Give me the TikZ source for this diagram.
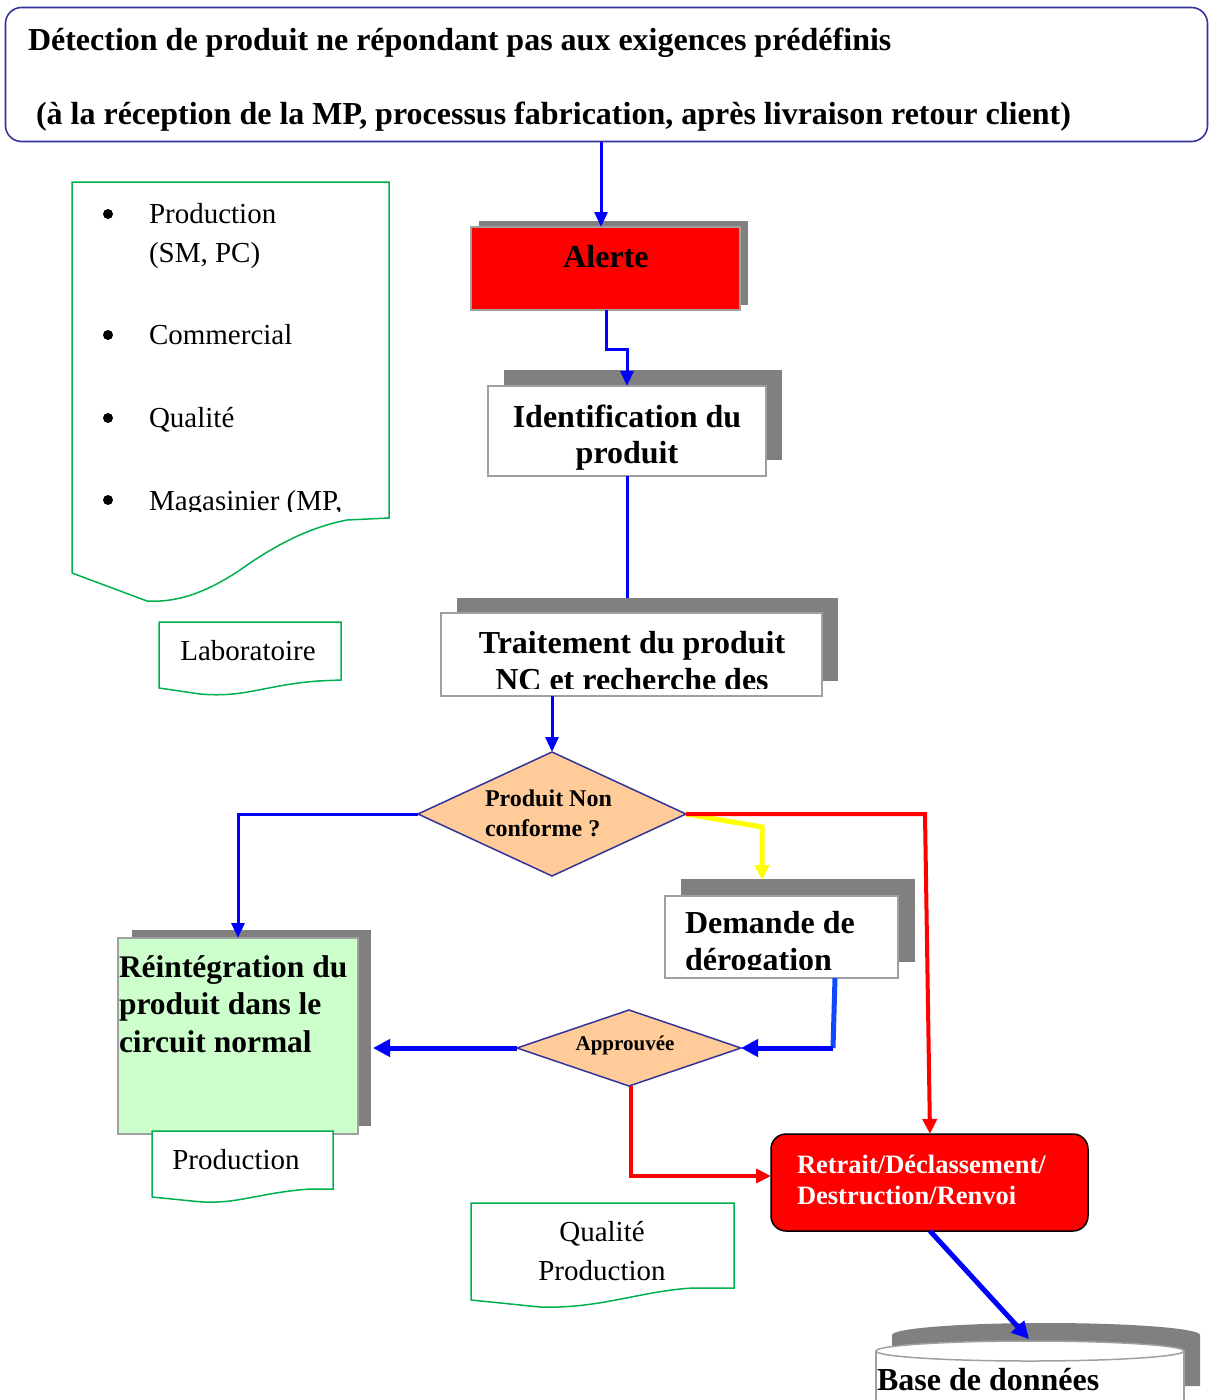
\documentclass[tikz,border=0pt]{standalone}
\usepackage{fontspec}
\setmainfont{Liberation Serif}
\usetikzlibrary{arrows.meta,shapes.geometric,calc}

\definecolor{navy}{RGB}{51,51,153}
\definecolor{docgreen}{RGB}{0,176,80}
\definecolor{shadowgray}{RGB}{128,128,128}
\definecolor{edge}{RGB}{160,160,160}
\definecolor{peach}{RGB}{255,204,153}
\definecolor{mint}{RGB}{204,255,204}
\definecolor{flowblue}{RGB}{0,0,255}
\definecolor{paleblue}{RGB}{16,72,255}
\definecolor{flowred}{RGB}{255,0,0}
\definecolor{flowyellow}{RGB}{255,255,0}

\newcommand\fBig{\fontsize{32}{37}\selectfont\bfseries}
\newcommand\fReint{\fontsize{31.5}{36}\selectfont\bfseries}
\newcommand\fRet{\fontsize{26.5}{31}\selectfont\bfseries}
\newcommand\fDec{\fontsize{24}{29}\selectfont\bfseries}
\newcommand\fAppr{\fontsize{21}{25}\selectfont\bfseries}
\newcommand\fReg{\fontsize{29}{35}\selectfont}

\tikzset{
  every node/.style={inner sep=0pt, outer sep=0pt},
  box/.style={rectangle, draw=edge, line width=1.5pt, fill=white},
  dropshadow/.style={fill=shadowgray},
  decision/.style={diamond, draw=navy, line width=1.5pt, fill=peach},
  docshape/.style={draw=docgreen, line width=1.5pt, fill=white},
  flow/.style={draw=flowblue, line width=3pt, -{Triangle[length=15pt,width=13pt]}},
  flowthick/.style={draw=flowblue, line width=5pt, -{Triangle[length=17pt,width=17pt]}},
  flowplain/.style={draw=flowblue, line width=3pt},
  redflow/.style={draw=flowred, line width=4pt, -{Triangle[length=15pt,width=14pt]}},
  yellowflow/.style={draw=flowyellow, line width=5pt, -{Triangle[length=15pt,width=14pt]}},
}

\begin{document}
\begin{tikzpicture}[x=1pt,y=-1pt]
\useasboundingbox (0,0) rectangle (1213,1400);

% ---------- header ----------
\node[rectangle, rounded corners=16pt, draw=navy, line width=1.6pt,
      minimum width=1202pt, minimum height=134pt] (head) at (606.5,74.5) {};
\node[anchor=base west] (headA) at (28,50)
  {\fBig Détection de produit ne répondant pas aux exigences prédéfinis};
\node[anchor=base west] (headB) at (36,124)
  {\fBig (à la réception de la MP, processus fabrication, après livraison retour client)};

% ---------- Alerte ----------
\path[dropshadow] (479,221) rectangle (748,305);
\node[box, fill=flowred, minimum width=269pt, minimum height=83pt] (alerte) at (605.5,268.5) {};
\node[anchor=base] (alerteT) at (606,267) {\fBig Alerte};

% ---------- Identification ----------
\path[dropshadow] (504,370) rectangle (782,460);
\node[box, minimum width=278pt, minimum height=90pt] (ident) at (627,431) {};
\node[anchor=base] (identA) at (627,427) {\fBig Identification du};
\node[anchor=base] (identB) at (627,463) {\fBig produit};

% ---------- Traitement ----------
\path[dropshadow] (457,598) rectangle (838,681);
\node[box, minimum width=381pt, minimum height=83pt] (trait) at (631.5,654.5) {};
\begin{scope}
  \clip (441,613) rectangle (822,688);
  \node[anchor=base] (traitA) at (632,653) {\fBig Traitement du produit};
  \node[anchor=base] (traitB) at (632,690) {\fBig NC et recherche des};
\end{scope}

% ---------- decision: non conforme ----------
\node[decision, minimum width=268pt, minimum height=124pt] (nc) at (552,814) {};
\node[anchor=base west] (ncA) at (485,806) {\fDec Produit Non};
\node[anchor=base west] (ncB) at (485,836) {\fDec conforme ?};

% ---------- Demande de dérogation ----------
\path[dropshadow] (681,879) rectangle (915,962);
\node[box, minimum width=233pt, minimum height=82pt] (derog) at (781.5,937) {};
\begin{scope}
  \clip (665,896) rectangle (898,969);
  \node[anchor=base west] (derogA) at (685,933) {\fBig Demande de};
  \node[anchor=base west] (derogB) at (685,970) {\fBig dérogation};
\end{scope}

% ---------- Réintégration ----------
\path[dropshadow] (132,930) rectangle (371,1126);
\node[box, fill=mint, minimum width=240pt, minimum height=196pt] (reint) at (238,1036) {};
\node[anchor=base west] (reintA) at (119,977) {\fReint Réintégration du};
\node[anchor=base west] (reintB) at (119,1014) {\fReint produit dans le};
\node[anchor=base west] (reintC) at (119,1052) {\fReint circuit normal};

% ---------- decision: approuvée ----------
\node[decision, minimum width=224pt, minimum height=76pt] (appr) at (629,1048) {};
\node[anchor=base] (apprT) at (625,1050) {\fAppr Approuvée};

% ---------- Retrait ----------
\node[rectangle, rounded corners=15pt, draw=black, line width=1.5pt, fill=flowred,
      minimum width=317pt, minimum height=97pt] (retrait) at (929.5,1182.5) {};
\node[anchor=base west, text=white] (retraitA) at (797,1173) {\fRet Retrait/Déclassement/};
\node[anchor=base west, text=white] (retraitB) at (797,1204) {\fRet Destruction/Renvoi};

% ---------- database ----------
\path[dropshadow] (892,1335) -- (892,1386) -- (1200,1386) -- (1200,1335)
  arc[start angle=0, end angle=-180, x radius=154, y radius=12] -- cycle;
\fill[white] (876,1351) rectangle (1184,1400);
\draw[edge, line width=1.5pt] (876,1400) -- (876,1351) (1184,1351) -- (1184,1400);
\draw[edge, line width=1.5pt, fill=white] (1030,1351) ellipse[x radius=154, y radius=10];
\node[anchor=base west] (dbT) at (877,1390) {\fBig Base de données};
\coordinate (dbtop) at (1029,1339);

% ---------- actor documents ----------
\draw[docshape] (72,182) -- (389,182) -- (389,518) -- (347,520)
  .. controls (310,527) and (275,545) .. (240,570)
  .. controls (210,590) and (180,603) .. (147,601) -- (72,573) -- cycle;
\begin{scope}
  \clip (72,182) rectangle (389,511);
  \foreach \yy in {214,335,418,500} \fill (108,\yy) circle[radius=5];
  \node[anchor=base west] (actA) at (149,223) {\fReg Production};
  \node[anchor=base west] (actB) at (149,262) {\fReg (SM, PC)};
  \node[anchor=base west] (actC) at (149,344) {\fReg Commercial};
  \node[anchor=base west] (actD) at (149,427) {\fReg Qualité};
  \node[anchor=base west] (actE) at (149,510) {\fReg Magasinier (MP,};
\end{scope}

\draw[docshape] (159,622) -- (341,622) -- (341,680) -- (318,681)
  .. controls (265,685) and (245,698) .. (200,694) -- (159,688) -- cycle;
\node[anchor=base] (labo) at (248,660) {\fReg Laboratoire};

\draw[docshape] (152,1131) -- (333,1131) -- (333,1189) -- (310,1189)
  .. controls (255,1193) and (235,1206) .. (192,1201) -- (152,1197) -- cycle;
\node[anchor=base] (prodDoc) at (236,1169) {\fReg Production};

\draw[docshape] (471,1203) -- (734,1203) -- (734,1288) -- (693,1288)
  .. controls (640,1291) and (600,1309) .. (540,1307) -- (471,1300) -- cycle;
\node[anchor=base] (qpA) at (602,1241) {\fReg Qualité};
\node[anchor=base] (qpB) at (602,1280) {\fReg Production};

% ---------- connectors ----------
\coordinate (xa) at (601,0);
\draw[flow] (head.south -| xa) -- (alerte.north -| xa);

\coordinate (xb) at (606,0);
\coordinate (xc) at (627,0);
\draw[flow] (alerte.south -| xb) -- ++(0,39) -| (ident.north -| xc);

\coordinate (ytr) at (0,598);
\draw[flowplain] (ident.south) -- (ident.south |- ytr);

\draw[flow] (trait.south -| nc.north) -- (nc.north);

\draw[flow] (nc.west) -| (reint.north);

\coordinate (ybend) at (762,827);
\coordinate (ydg) at (0,880);
\draw[yellowflow] (nc.east) -- (ybend) -- (ybend |- ydg);

\coordinate (rbend) at (925,814);
\coordinate (xr) at (930,0);
\draw[redflow] (nc.east) -- (rbend) -- (retrait.north -| xr);

\coordinate (xdg) at (835,0);
\coordinate (dbend) at (833,1048);
\draw[draw=paleblue, line width=5pt] (derog.south -| xdg) -- (dbend);
\draw[flowthick] (dbend) -- (appr.east);

\coordinate (xrs) at (373,0);
\draw[flowthick] (appr.west) -- (appr.west -| xrs);

\coordinate (yret) at (0,1176);
\coordinate (xap) at (631,0);
\draw[redflow] (appr.south -| xap) -- (xap |- yret) -- (retrait.west |- yret);

\draw[flowthick] (retrait.south -| xr) -- (dbtop);

\end{tikzpicture}
\end{document}
